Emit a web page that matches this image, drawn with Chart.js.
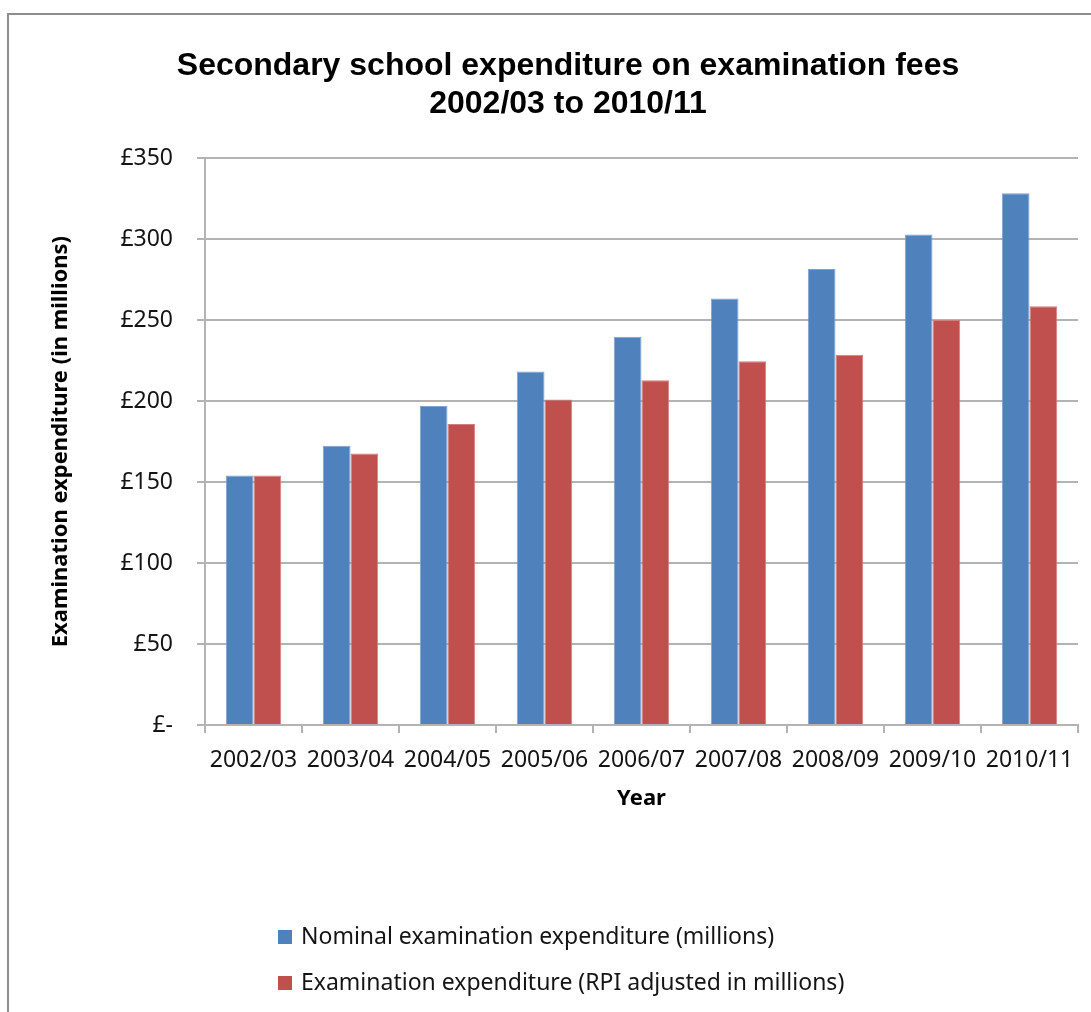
<!DOCTYPE html>
<html>
<head>
<meta charset="utf-8">
<title>Secondary school expenditure on examination fees</title>
<script src="https://cdn.jsdelivr.net/npm/chart.js@4.4.1/dist/chart.umd.min.js"></script>
<style>
  html, body { margin: 0; padding: 0; background: #fff; overflow: hidden; }
  #wrap { position: relative; width: 1091px; height: 1012px; }
  #frame { position: absolute; left: 7px; top: 13px; width: 1200px; height: 1100px; border: 2px solid #8e8e8e; }
  #chartExamenes { position: absolute; left: 0; top: 0; }
</style>
</head>
<body>
<div id="wrap">
  <div id="frame"></div>
  <canvas id="chartExamenes" width="1091" height="1012"></canvas>
</div>
<script>
// Years on the x axis
const years = [
  '2002/03', '2003/04', '2004/05', '2005/06', '2006/07',
  '2007/08', '2008/09', '2009/10', '2010/11'
];

// Spending in £ millions
const nominal     = [154, 172.4, 196.9, 218.2, 239.7, 263.3, 281.5, 302.8, 328.3];
const rpiAdjusted = [154, 167.6, 185.8, 201.0, 212.8, 224.6, 228.6, 250.0, 258.6];

// Y axis labels, one per 50 from 0 to 350
const yTickLabels = ['£-', '£50', '£100', '£150', '£200', '£250', '£300', '£350'];

const gridGrey = '#b3b3b3';
const textColor = '#141414';

// Legend drawn as two stacked rows under the chart
const stackedLegend = {
  id: 'stackedLegend',
  afterDraw(chart) {
    const ctx = chart.ctx;
    ctx.save();
    ctx.font = '23px "Noto Sans"';
    ctx.textBaseline = 'middle';
    ctx.textAlign = 'left';
    chart.data.datasets.forEach((ds, i) => {
      const y = 937 + i * 46;
      ctx.fillStyle = ds.backgroundColor;
      ctx.fillRect(278, y - 7, 14, 14);
      ctx.fillStyle = textColor;
      ctx.fillText(ds.label, 301, y);
    });
    ctx.restore();
  }
};

const ctx = document.getElementById('chartExamenes');
new Chart(ctx, {
  type: 'bar',
  data: {
    labels: years,
    datasets: [{
      label: 'Nominal examination expenditure (millions)',
      data: nominal,
      backgroundColor: '#4f81bd',
      borderColor: '#7fa2d0', // lighter edge like the original bars
      borderWidth: 1,
      barPercentage: 1,
      categoryPercentage: 0.571
    }, {
      label: 'Examination expenditure (RPI adjusted in millions)',
      data: rpiAdjusted,
      backgroundColor: '#c0504d',
      borderColor: '#d27f7d',
      borderWidth: 1,
      barPercentage: 1,
      categoryPercentage: 0.571
    }]
  },
  options: {
    responsive: false,
    animation: false,
    layout: {
      padding: { left: 58, right: 13, top: 0, bottom: 200 }
    },
    plugins: {
      legend: { display: false },
      tooltip: { enabled: false },
      title: {
        display: true,
        text: ['Secondary school expenditure on examination fees', '2002/03 to 2010/11'],
        color: '#000',
        font: { family: '"Liberation Sans", Arial, sans-serif', size: 32, weight: 'bold', lineHeight: 1.19 },
        padding: { top: 47, bottom: 35 }
      }
    },
    scales: {
      x: {
        afterFit(scale) { scale.height = 87; },
        grid: {
          offset: true,
          drawOnChartArea: false,
          drawTicks: true,
          tickLength: 8,
          color: gridGrey,
          lineWidth: 2
        },
        border: { display: true, color: gridGrey, width: 2 },
        ticks: {
          color: textColor,
          padding: 14,
          maxRotation: 0,
          autoSkip: false,
          font: { family: '"Noto Sans"', size: 23 }
        },
        title: {
          display: true,
          text: 'Year',
          color: '#000',
          padding: { top: 0, bottom: 0 },
          font: { family: '"Noto Sans"', size: 22, weight: 'bold' }
        }
      },
      y: {
        min: 0,
        max: 350,
        afterFit(scale) { scale.width = 147; },
        grid: {
          color: gridGrey,
          lineWidth: 2,
          drawTicks: true,
          tickLength: 8
        },
        border: { display: true, color: gridGrey, width: 2 },
        ticks: {
          stepSize: 50,
          color: textColor,
          padding: 24,
          font: { family: '"Noto Sans"', size: 23 },
          callback: (value, index) => yTickLabels[index]
        },
        title: {
          display: true,
          text: 'Examination expenditure (in millions)',
          color: '#000',
          padding: { top: -10, bottom: 0 },
          font: { family: '"Noto Sans"', size: 22, weight: 'bold' }
        }
      }
    }
  },
  plugins: [stackedLegend]
});
</script>
</body>
</html>
